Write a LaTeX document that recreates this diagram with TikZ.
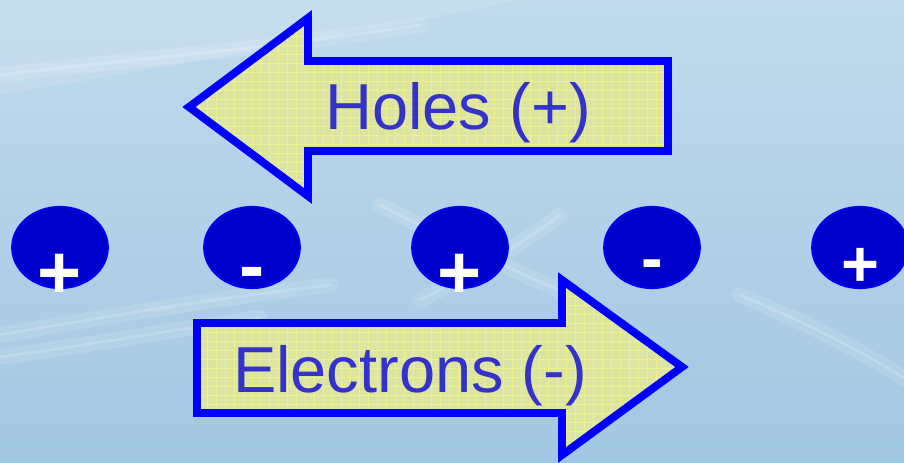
\documentclass[tikz,border=0pt]{standalone}
\usepackage{fontspec}
\setmainfont{Liberation Sans}
\usetikzlibrary{shapes.geometric}
\definecolor{skytop}{HTML}{C0DAEC}
\definecolor{skybot}{HTML}{A2C7E2}
\definecolor{arrowfill}{HTML}{DCE4A2}
\definecolor{arrowgrid}{HTML}{EEF08C}
\definecolor{arrowedge}{HTML}{0000FF}
\definecolor{labeltext}{HTML}{3333CC}
\definecolor{chargefill}{HTML}{0000CC}

\begin{document}
\begin{tikzpicture}[x=0.02cm,y=-0.02cm,
  charge/.style={ellipse,draw=arrowedge,fill=chargefill,line width=1pt,minimum width=1.92cm,minimum height=1.63cm,inner sep=0pt},
  sign/.style={anchor=base,text=white,inner sep=0pt,font=\bfseries\fontsize{43}{43}\selectfont},
  smallsign/.style={sign,font=\bfseries\fontsize{37}{37}\selectfont},
  glow/.style={white,opacity=.12,line width=9pt,line cap=round},
  streak/.style={white,opacity=.18,line width=1.6pt,line cap=round},
  flow/.style={draw=arrowedge,fill=arrowfill,line width=4.5pt,line join=miter,
    path picture={\draw[arrowgrid,line width=.5pt,step=.18cm] (path picture bounding box.south west) grid (path picture bounding box.north east);}},
  flowtext/.style={anchor=base,text=labeltext,inner sep=0pt,font=\fontsize{37}{37}\selectfont}]
 \useasboundingbox (0,0) rectangle (904,463);
 \begin{scope}
  \clip (0,0) rectangle (904,463);
  \fill[top color=skytop,bottom color=skybot] (0,0) rectangle (904,463);
  \fill[white,opacity=.12] (0,0) -- (520,0) .. controls (380,30) and (200,60) .. (0,95) -- cycle;
  \foreach \s in {glow,streak}{
   \draw[\s] (0,75) .. controls (120,60) and (260,50) .. (420,25);
   \draw[\s] (0,335) .. controls (100,318) and (200,300) .. (330,285);
   \draw[\s] (0,357) .. controls (90,345) and (170,330) .. (260,318);
   \draw[\s] (380,205) .. controls (440,235) and (500,265) .. (570,295);
   \draw[\s] (560,215) .. controls (520,245) and (470,275) .. (420,300);
   \draw[\s] (740,295) .. controls (800,320) and (860,350) .. (904,378);
  }
 \end{scope}
 \draw[flow] (189,107) -- (308,18) -- (308,61) -- (668,61) -- (668,151) -- (308,151) -- (308,196) -- cycle;
 \node[flowtext] (holes) at (458,130) {Holes (+)};
 \draw[flow] (197,323) -- (562,323) -- (562,280) -- (682,367) -- (562,455) -- (562,413) -- (197,413) -- cycle;
 \node[flowtext] (electrons) at (410,392) {Electrons (-)};
 \node[charge] (p1) at (60,247.5) {};
 \node[charge] (n1) at (252,247.5) {};
 \node[charge] (p2) at (460,247.5) {};
 \node[charge] (n2) at (652,247.5) {};
 \node[charge] (p3) at (860,247.5) {};
 \node[sign] (sp1) at (60,298) {+};
 \node[sign] (sn1) at (252,291) {-};
 \node[sign] (sp2) at (460,298) {+};
 \node[smallsign] (sn2) at (652,280) {-};
 \node[smallsign] (sp3) at (860,286) {+};
\end{tikzpicture}
\end{document}
